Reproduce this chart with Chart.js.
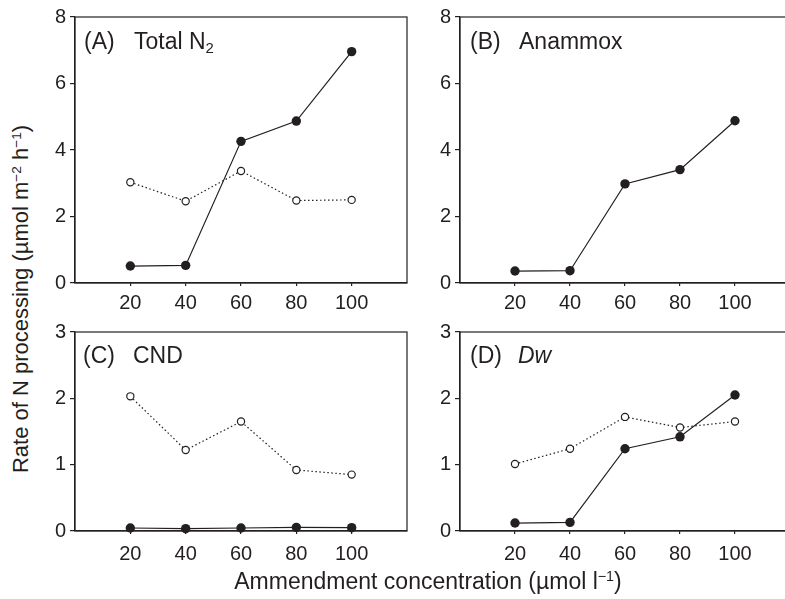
<!DOCTYPE html>
<html>
<head>
<meta charset="utf-8">
<script src="https://cdn.jsdelivr.net/npm/chart.js@4.4.1/dist/chart.umd.min.js"></script>
<style>
  html, body { margin: 0; padding: 0; width: 785px; height: 599px; overflow: hidden; background: #fff; }
  body { position: relative; font-family: "Liberation Sans", Arial, sans-serif; color: #231f20; }
  canvas { position: absolute; }
  #chartA { left: 35px; top: 0; }
  #chartB { left: 420px; top: 0; }
  #chartC { left: 35px; top: 315px; }
  #chartD { left: 420px; top: 315px; }
  .lab { position: absolute; font-size: 23px; line-height: 1; white-space: nowrap; }
  .lab sub { font-size: 0.65em; vertical-align: -0.25em; }
  .axt { position: absolute; font-size: 23px; line-height: 1; white-space: nowrap; }
  .axt sup { font-size: 0.62em; vertical-align: 0.55em; }
  #ytitle { left: 21px; top: 299px; transform: translate(-50%, -50%) rotate(-90deg); font-size: 22px; }
  #xtitle { left: 428px; top: 581px; transform: translate(-50%, -50%); }
</style>
</head>
<body>
<canvas id="chartA" width="385" height="320"></canvas>
<canvas id="chartB" width="385" height="320"></canvas>
<canvas id="chartC" width="385" height="284"></canvas>
<canvas id="chartD" width="385" height="284"></canvas>

<div class="lab" style="left:84px; top:30px;">(A)</div>
<div class="lab" style="left:134px; top:30px;">Total N<sub>2</sub></div>
<div class="lab" style="left:470px; top:30px;">(B)</div>
<div class="lab" style="left:519px; top:30px;">Anammox</div>
<div class="lab" style="left:83px; top:344px;">(C)</div>
<div class="lab" style="left:133px; top:344px;">CND</div>
<div class="lab" style="left:470px; top:344px;">(D)</div>
<div class="lab" style="left:518px; top:344px;"><i>Dw</i></div>

<div class="axt" id="ytitle">Rate of N processing (µmol m<sup>−2</sup> h<sup>−1</sup>)</div>
<div class="axt" id="xtitle">Ammendment concentration (µmol l<sup>−1</sup>)</div>

<script>
// Amendment concentrations (x) and tick labels
const xValues = [20, 40, 60, 80, 100];
const xTicks = [20, 40, 60, 80, 100];
const yTicksTop = [0, 2, 4, 6, 8];
const yTicksBottom = [0, 1, 2, 3];

// (A) Total N2
const totalFilled = [0.51, 0.53, 4.26, 4.87, 6.96];
const totalOpen = [3.03, 2.46, 3.37, 2.48, 2.5];
// (B) Anammox
const anammoxFilled = [0.36, 0.37, 2.98, 3.41, 4.88];
// (C) CND
const cndFilled = [0.045, 0.035, 0.045, 0.055, 0.05];
const cndOpen = [2.03, 1.22, 1.65, 0.92, 0.85];
// (D) Dw
const dwFilled = [0.12, 0.13, 1.24, 1.42, 2.05];
const dwOpen = [1.01, 1.24, 1.72, 1.56, 1.65];

const ink = "#231f20";
const tickFont = { family: "'Liberation Sans', Arial, sans-serif", size: 20 };

// box round the plot area
const frameBox = {
  id: "frameBox",
  beforeDatasetsDraw(chart) {
    const { ctx, chartArea: a } = chart;
    ctx.save();
    ctx.strokeStyle = ink;
    ctx.lineWidth = 1.2;
    ctx.strokeRect(a.left, a.top, a.right - a.left, a.bottom - a.top);
    ctx.restore();
  },
};

function pairs(values) {
  return values.map((v, i) => ({ x: xValues[i], y: v }));
}

function openSeries(values) {
  return {
    data: pairs(values),
    borderColor: ink,
    borderWidth: 1.2,
    borderDash: [1.5, 2.5],
    pointRadius: 3.6,
    pointBorderWidth: 1.2,
    pointBorderColor: ink,
    pointBackgroundColor: "#fff",
    clip: false,
  };
}

function filledSeries(values) {
  return {
    data: pairs(values),
    borderColor: ink,
    borderWidth: 1.2,
    pointRadius: 4.7,
    pointBorderWidth: 0,
    pointBackgroundColor: ink,
    clip: false,
  };
}

function drawPanel(id, datasets, yTicks, rightPad, xHeight, xPad) {
  const ctx = document.getElementById(id).getContext("2d");
  return new Chart(ctx, {
    type: "line",
    data: { datasets: datasets },
    options: {
      responsive: false,
      animation: false,
      devicePixelRatio: 1,
      layout: { padding: { top: 17, right: rightPad, left: 0, bottom: 0 } },
      plugins: { legend: { display: false }, tooltip: { enabled: false } },
      scales: {
        x: {
          type: "linear",
          min: 0,
          max: 120,
          afterBuildTicks: (s) => { s.ticks = xTicks.map((v) => ({ value: v })); },
          afterFit: (s) => { s.height = xHeight; },
          ticks: { color: ink, font: tickFont, padding: xPad, maxRotation: 0, autoSkip: false },
          grid: { drawOnChartArea: false, tickLength: 3, color: ink, lineWidth: 1.2 },
          border: { display: true, color: ink, width: 1.2 },
        },
        y: {
          min: 0,
          max: yTicks[yTicks.length - 1],
          afterBuildTicks: (s) => { s.ticks = yTicks.map((v) => ({ value: v })); },
          afterFit: (s) => { s.width = 40; },
          ticks: { color: ink, font: tickFont, padding: 4 },
          grid: { drawOnChartArea: false, tickLength: 5, color: ink, lineWidth: 1.2 },
          border: { display: true, color: ink, width: 1.2 },
        },
      },
    },
    plugins: [frameBox],
  });
}

drawPanel("chartA", [openSeries(totalOpen), filledSeries(totalFilled)], yTicksTop, 13, 37, 5);
drawPanel("chartB", [filledSeries(anammoxFilled)], yTicksTop, 15, 37, 5);
drawPanel("chartC", [filledSeries(cndFilled), openSeries(cndOpen)], yTicksBottom, 13, 68, 8);
drawPanel("chartD", [openSeries(dwOpen), filledSeries(dwFilled)], yTicksBottom, 15, 68, 8);
</script>
</body>
</html>
